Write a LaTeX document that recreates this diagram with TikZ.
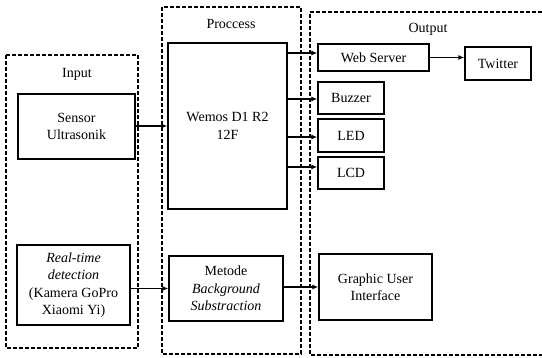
\documentclass[tikz,border=0pt]{standalone}
\usepackage{fontspec}
\setmainfont{Liberation Serif}
\usetikzlibrary{arrows.meta}
\begin{document}
\begin{tikzpicture}[x=1pt,y=-1pt,
  box/.style={draw, line width=1.3pt, rectangle, inner sep=0pt, align=center,
    font=\fontsize{14}{17.5}\selectfont},
  grp/.style={draw, line width=1.3pt, dash pattern=on 4pt off 2pt},
  lbl/.style={font=\fontsize{14}{17.5}\selectfont, inner sep=0pt},
  arr/.style={line width=1.3pt, -{Latex[length=6pt,width=5pt]}}]
\useasboundingbox (0,0) rectangle (542,358);
% group frames
\draw[grp] (6,55) rectangle (138,348);
\draw[grp] (162,7) rectangle (301,354);
\draw[grp] (548,12) -- (310,12) -- (310,355) -- (548,355);
\node[lbl] (lin) at (77,74) {Input};
\node[lbl] (lpr) at (231,24) {Proccess};
\node[lbl] (lout) at (428,29) {Output};
% boxes
\node[box, minimum width=117pt, minimum height=65pt] (sensor) at (76.5,126.5) {Sensor\\Ultrasonik};
\node[box, minimum width=119pt, minimum height=166pt] (wemos) at (227.5,126) {Wemos D1 R2\\12F};
\node[box, minimum width=111pt, minimum height=27pt] (web) at (373.5,57.5) {Web Server};
\node[box, minimum width=66pt, minimum height=33pt] (tw) at (498,63.5) {Twitter};
\node[box, minimum width=66pt, minimum height=32pt] (buz) at (351,98) {Buzzer};
\node[box, minimum width=66pt, minimum height=33pt] (led) at (351,135.5) {LED};
\node[box, minimum width=66pt, minimum height=32pt] (lcd) at (351,173) {LCD};
\node[box, minimum width=113pt, minimum height=80pt] (rt) at (73.5,285) {\textit{Real-time}\\\textit{detection}\\(Kamera GoPro\\Xiaomi Yi)};
\node[box, minimum width=114pt, minimum height=65pt] (met) at (226,288.5) {Metode\\\textit{Background}\\\textit{Substraction}};
\node[box, minimum width=113pt, minimum height=66pt] (gui) at (375.5,287) {Graphic User\\Interface};
% arrow levels
\coordinate (ya) at (0,53);
\coordinate (yb) at (0,99);
\coordinate (yc) at (0,137);
\coordinate (yd) at (0,167);
% connectors
\draw[arr] (sensor.east |- wemos) -- (wemos.west);
\draw[arr] (wemos.east |- ya) -- (web.west |- ya);
\draw[arr] (wemos.east |- yb) -- (buz.west |- yb);
\draw[arr] (wemos.east |- yc) -- (led.west |- yc);
\draw[arr] (wemos.east |- yd) -- (lcd.west |- yd);
\draw[arr] (web.east) -- (tw.west |- web);
\draw[arr] (rt.east |- met) -- (met.west);
\draw[arr] (met.east |- gui) -- (gui.west);
\end{tikzpicture}
\end{document}
